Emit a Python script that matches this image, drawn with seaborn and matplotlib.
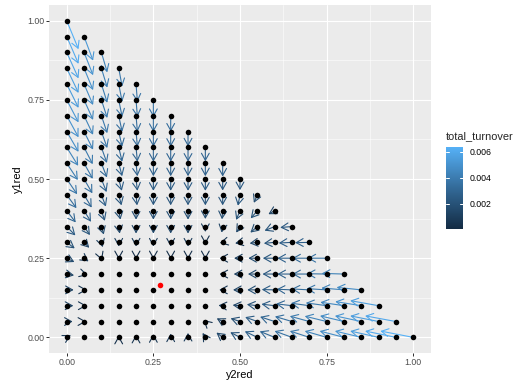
import numpy as np
import pandas as pd
import matplotlib
matplotlib.use("Agg")
import matplotlib.pyplot as plt
import matplotlib as mpl
import seaborn as sns
from matplotlib.colors import LinearSegmentedColormap, Normalize
from matplotlib.ticker import FixedLocator, FormatStrFormatter
from matplotlib.patches import FancyArrowPatch

# grid levels
y2_levels = [0.00, 0.05, 0.10, 0.15, 0.20, 0.25, 0.30, 0.35, 0.40, 0.45, 0.50,
             0.55, 0.60, 0.65, 0.70, 0.75, 0.80, 0.85, 0.90, 0.95, 1.00]
# rows from y1red = 1.00 down to 0.00; each row lists y2red = 0, 0.05, ... up to 1 - y1red
y1_levels = [1.00, 0.95, 0.90, 0.85, 0.80, 0.75, 0.70, 0.65, 0.60, 0.55, 0.50,
             0.45, 0.40, 0.35, 0.30, 0.25, 0.20, 0.15, 0.10, 0.05, 0.00]

dx_rows = [
    [0.034],
    [0.034, 0.026],
    [0.034, 0.026, 0.017],
    [0.034, 0.026, 0.017, 0.010],
    [0.034, 0.026, 0.017, 0.010, 0.004],
    [0.034, 0.026, 0.017, 0.010, 0.004, 0],
    [0.034, 0.026, 0.017, 0.010, 0.004, 0, 0],
    [0.034, 0.026, 0.017, 0.010, 0.004, 0, 0, 0],
    [0.033, 0.025, 0.016, 0.010, 0.004, 0, 0, 0, 0],
    [0.032, 0.025, 0.016, 0.010, 0.004, 0, 0, 0, 0, 0],
    [0.030, 0.024, 0.015, 0.009, 0.004, 0, 0, 0, 0, 0, 0],
    [0.028, 0.022, 0.013, 0.008, 0.003, 0, 0, 0, 0, 0, -0.006, -0.010],
    [0.026, 0.020, 0.010, 0.005, 0, 0, 0, 0, 0, -0.002, -0.011, -0.019, -0.018],
    [0.025, 0.017, 0.007, 0.003, 0, 0, 0, 0, 0, -0.003, -0.011, -0.020, -0.029, -0.034],
    [0.023, 0.015, 0.004, 0, 0, 0, 0, 0, 0, -0.008, -0.014, -0.022, -0.031, -0.038, -0.041],
    [0.022, 0.013, 0.002, 0, 0, 0, 0, 0, 0, -0.009, -0.017, -0.026, -0.034, -0.042, -0.049, -0.055],
    [0.021, 0.010, 0, 0, 0, 0, 0, 0, 0, -0.009, -0.018, -0.027, -0.035, -0.042, -0.049, -0.057, -0.064],
    [0.020, 0.008, 0, 0, 0, 0, 0, 0, 0, -0.010, -0.020, -0.029, -0.037, -0.044, -0.051, -0.058, -0.065, -0.071],
    [0.019, 0.007, 0, 0, 0, 0, 0, 0, 0, -0.012, -0.021, -0.030, -0.038, -0.046, -0.053, -0.060, -0.068, -0.075, -0.082],
    [0.017, 0.006, 0, 0, 0, 0, 0, 0, -0.005, -0.017, -0.027, -0.035, -0.042, -0.049, -0.056, -0.063, -0.069, -0.076, -0.082, -0.089],
    [0.012, 0, 0, 0, 0, 0, 0, 0, -0.008, -0.018, -0.028, -0.036, -0.043, -0.050, -0.056, -0.063, -0.070, -0.076, -0.082, -0.089, -0.095],
]

dy_rows = [
    [-0.090],
    [-0.086, -0.076],
    [-0.082, -0.072, -0.063],
    [-0.078, -0.069, -0.061, -0.058],
    [-0.075, -0.066, -0.059, -0.056, -0.056],
    [-0.071, -0.063, -0.057, -0.054, -0.054, -0.054],
    [-0.068, -0.060, -0.055, -0.051, -0.051, -0.051, -0.050],
    [-0.064, -0.057, -0.052, -0.048, -0.048, -0.048, -0.048, -0.047],
    [-0.058, -0.053, -0.049, -0.045, -0.045, -0.045, -0.045, -0.045, -0.044],
    [-0.053, -0.049, -0.045, -0.041, -0.041, -0.041, -0.041, -0.041, -0.041, -0.042],
    [-0.048, -0.045, -0.041, -0.037, -0.037, -0.037, -0.037, -0.037, -0.037, -0.036, -0.035],
    [-0.042, -0.040, -0.037, -0.033, -0.033, -0.033, -0.033, -0.033, -0.033, -0.033, -0.034, -0.025],
    [-0.037, -0.035, -0.032, -0.028, -0.028, -0.028, -0.028, -0.028, -0.026, -0.027, -0.029, -0.024, -0.011],
    [-0.028, -0.027, -0.025, -0.022, -0.022, -0.022, -0.022, -0.022, -0.017, -0.019, -0.019, -0.019, -0.013, -0.003],
    [-0.019, -0.017, -0.015, -0.013, -0.013, -0.013, -0.013, -0.013, -0.005, -0.002, -0.003, -0.003, -0.003, -0.002, -0.001],
    [-0.012, -0.010, -0.006, -0.003, -0.003, -0.003, -0.003, -0.003, -0.003, 0, 0, 0, 0, 0, 0, 0],
    [-0.004, -0.003, 0, 0, 0, 0, 0, 0, 0, 0, 0, 0, 0, 0, 0, 0.001, 0.002],
    [0, 0, 0, 0, 0, 0, 0, 0, 0, 0, 0, 0, 0.001, 0.002, 0.003, 0.004, 0.006, 0.008],
    [0, 0, 0, 0, 0, 0, 0, 0, 0, 0.001, 0.002, 0.004, 0.005, 0.006, 0.008, 0.009, 0.011, 0.013, 0.016],
    [0, 0, 0, 0, 0, 0, 0, 0, 0.005, 0.010, 0.010, 0.014, 0.015, 0.016, 0.017, 0.017, 0.018, 0.018, 0.018, 0.018],
    [0.007, 0, 0, 0.005, 0.008, 0.010, 0.012, 0.014, 0.014, 0.015, 0.016, 0.019, 0.019, 0.020, 0.020, 0.020,
     0.020, 0.020, 0.020, 0.020, 0.020],
]

turnover_per_length = 0.066   # colour of an arrow tracks its length

eq_y2 = [0.268]
eq_y1 = [0.166]

tick_vals = [0.00, 0.25, 0.50, 0.75, 1.00]
cbar_ticks = [0.002, 0.004, 0.006]

# ---- build table ----
recs = []
for y1, dxr, dyr in zip(y1_levels, dx_rows, dy_rows):
    for i, (ddx, ddy) in enumerate(zip(dxr, dyr)):
        recs.append(dict(y2red=y2_levels[i], y1red=y1, dx=ddx, dy=ddy))
df = pd.DataFrame(recs)
df["total_turnover"] = np.hypot(df.dx, df.dy) * turnover_per_length

# ---- style ----
sns.set_theme(style="darkgrid", rc={
    "axes.facecolor": "#EBEBEB",
    "grid.color": "white",
    "figure.facecolor": "white",
})
plt.rcParams["font.family"] = ["Liberation Sans", "DejaVu Sans"]

W, H = 515, 381
dpi = 100
fig = plt.figure(figsize=(W / dpi, H / dpi), dpi=dpi)
px = 72 / dpi  # points per pixel

ax = fig.add_axes([49.4 / W, 1 - 353.2 / H, (430.6 - 49.4) / W, (353.2 - 4.9) / H])
ax.set_xlim(-0.05, 1.05)
ax.set_ylim(-0.05, 1.05)

ax.xaxis.set_major_locator(FixedLocator(tick_vals))
ax.yaxis.set_major_locator(FixedLocator(tick_vals))
ax.xaxis.set_minor_locator(FixedLocator([0.125, 0.375, 0.625, 0.875]))
ax.yaxis.set_minor_locator(FixedLocator([0.125, 0.375, 0.625, 0.875]))
ax.grid(which="major", color="white", linewidth=1.1 * px)
ax.grid(which="minor", color="white", linewidth=0.55 * px)
ax.xaxis.set_major_formatter(FormatStrFormatter("%.2f"))
ax.yaxis.set_major_formatter(FormatStrFormatter("%.2f"))
for s in ax.spines.values():
    s.set_visible(False)
ax.tick_params(which="major", length=2.7 * px, width=1.0 * px, color="#333333",
               pad=2.2 * px, labelsize=8.8 * px, labelcolor="#4D4D4D",
               bottom=True, left=True)
ax.tick_params(which="minor", length=0)

cmap = LinearSegmentedColormap.from_list("gg", ["#132B43", "#336A98", "#56B1F7"])
norm = Normalize(vmin=0, vmax=df.total_turnover.max())

# arrows (segments in data coordinates)
for r in df.itertuples():
    if r.dx == 0 and r.dy == 0:
        continue
    arr = FancyArrowPatch((r.y2red, r.y1red), (r.y2red + r.dx, r.y1red + r.dy),
                          arrowstyle="->,head_length=0.25,head_width=0.14",
                          mutation_scale=20, color=cmap(norm(r.total_turnover)),
                          lw=1.1 * px, shrinkA=0, shrinkB=0, zorder=2)
    ax.add_patch(arr)

sns.scatterplot(data=df, x="y2red", y="y1red", color="black", s=16,
                linewidth=0, ax=ax, zorder=3, legend=False)
sns.scatterplot(x=eq_y2, y=eq_y1, color="red", s=16, linewidth=0, ax=ax,
                zorder=4, legend=False)

ax.set_xlabel("y2red", fontsize=11 * px, color="black", labelpad=2.5 * px)
ax.set_ylabel("y1red", fontsize=11 * px, color="black", labelpad=4 * px)

cax = fig.add_axes([446 / W, 1 - 229.3 / H, 17.3 / W, 82.6 / H])
cb = mpl.colorbar.ColorbarBase(cax, cmap=cmap, norm=norm, orientation="vertical")
cb.outline.set_visible(False)
cb.set_ticks(cbar_ticks)
cb.set_ticklabels(["0.002", "0.004", "0.006"])
cax.tick_params(length=0, pad=6.5 * px, labelsize=8.8 * px, labelcolor="black")
for t in cbar_ticks:
    cax.plot([0, 0.2], [t, t], color="white", lw=1.0 * px, transform=cax.get_yaxis_transform())
    cax.plot([0.8, 1.0], [t, t], color="white", lw=1.0 * px, transform=cax.get_yaxis_transform())
fig.text(446 / W, 1 - 136.5 / H, "total_turnover", fontsize=11 * px, ha="left", va="center")

fig.savefig("out.png", dpi=dpi)
